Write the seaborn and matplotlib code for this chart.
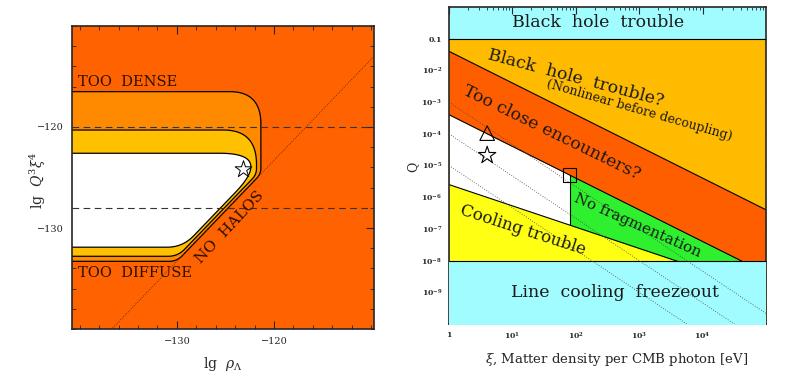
import numpy as np
import matplotlib.pyplot as plt
import seaborn as sns
from matplotlib.ticker import FixedLocator, MultipleLocator, LogLocator, NullFormatter

sns.set_style("ticks")
plt.rcParams['font.family'] = ['DejaVu Serif']
plt.rcParams['mathtext.fontset'] = 'dejavuserif'

# ---- left panel: lg rho_Lambda vs lg Q^3 xi^4 ----
rho_lim = [-140.8, -109.7]
q3xi4_lim = [-140, -110]
dashed_levels = [-120, -128]
halo_offset = -3.3                 # dotted: lg Q^3xi^4 = lg rho + offset
halo_rho = [-145, -105]

# region outlines: corners (lg rho, lg Q^3xi^4) and corner rounding
outer_x = [-145, -121.35, -121.35, -130.0, -145]
outer_y = [-116.5, -116.5, -124.65, -133.3, -133.3]
outer_r = [0, 3.2, 0.6, 0.8, 0]
middle_x = [-145, -121.8, -121.8, -129.9, -145]
middle_y = [-120.3, -120.3, -124.7, -132.8, -132.8]
middle_r = [0, 3.4, 0.6, 1.0, 0]
inner_x = [-145, -120.1, -129.4, -145]
inner_y = [-122.6, -122.6, -131.9, -131.9]
inner_r = [0, 5.5, 1.6, 0]
star_left = (-123.2, -124.2)

# ---- right panel: xi vs Q ----
xi_lim = [1, 1e5]
q_lim = [1e-10, 1]
q_bh = 0.1
q_freeze = 1e-8
xi_ends = [1, 1e5]
q_encounter_top = [4e-2, 4e-7]
q_encounter_bottom = [4e-4, 4e-9]
q_cooling = [2.5e-6, 1.1e-9]
xi_fragment = 80
q3xi4_levels = [1e-9, 1e-12, 1e-15]
xi_dotted = [1, 1e6]
marker_xi = [4, 4, 80]
marker_q = [1.05e-4, 2.1e-5, 5e-6]
marker_kind = ['^', '*', 's']


def rounded(xs, ys, rs, n=30):
    pts = np.column_stack([xs, ys]).astype(float)
    out = [pts[0]]
    for i in range(1, len(pts) - 1):
        v, r = pts[i], rs[i]
        if r == 0:
            out.append(v)
            continue
        d1 = v - pts[i - 1]
        d1 /= np.linalg.norm(d1)
        d2 = pts[i + 1] - v
        d2 /= np.linalg.norm(d2)
        p1, p2 = v - r * d1, v + r * d2
        t = np.linspace(0, 1, n)[:, None]
        out.extend((1 - t) ** 2 * p1 + 2 * t * (1 - t) * v + t ** 2 * p2)
    out.append(pts[-1])
    return np.array(out)


def loglog_at(x, xs, qs):
    return 10 ** np.interp(np.log10(x), np.log10(xs), np.log10(qs))


fig = plt.figure(figsize=(7.99, 3.78), dpi=100)
ax1 = fig.add_axes([72 / 799, 49 / 378, 302 / 799, 303 / 378])
ax2 = fig.add_axes([449 / 799, 54 / 378, 317 / 799, 317 / 378])

# ---------------- left ----------------
ax1.set_facecolor('#ff6200')
for xs, ys, rs, col in [(outer_x, outer_y, outer_r, '#ff8a00'),
                        (middle_x, middle_y, middle_r, '#ffc000'),
                        (inner_x, inner_y, inner_r, 'white')]:
    p = rounded(xs, ys, rs)
    ax1.fill(p[:, 0], p[:, 1], facecolor=col, edgecolor='black', lw=0.9, zorder=2)

for lev in dashed_levels:
    ax1.axhline(lev, color='#333333', lw=0.8, ls=(0, (6, 4)), zorder=3)
sns.lineplot(x=halo_rho, y=[r + halo_offset for r in halo_rho], ax=ax1,
             color='#552200', lw=0.6, ls=':', zorder=3)
sns.scatterplot(x=[star_left[0]], y=[star_left[1]], ax=ax1, marker='*', s=160,
                facecolor='white', edgecolor='black', linewidth=0.7, zorder=5)

ax1.set_xlim(rho_lim)
ax1.set_ylim(q3xi4_lim)
ax1.xaxis.set_major_locator(FixedLocator([-130, -120]))
ax1.yaxis.set_major_locator(FixedLocator([-120, -130]))
ax1.xaxis.set_minor_locator(MultipleLocator(2))
ax1.yaxis.set_minor_locator(MultipleLocator(2))
ax1.set_xticklabels(['\u2212130', '\u2212120'])
ax1.set_yticklabels(['\u2212120', '\u2212130'])
ax1.tick_params(which='both', direction='in', top=True, right=True, labelsize=7, pad=6)
ax1.tick_params(which='major', length=6, width=0.8)
ax1.tick_params(which='minor', length=3, width=0.6)
for s in ax1.spines.values():
    s.set_linewidth(1.2)
ax1.set_xlabel(r'lg  $\rho_\Lambda$', fontsize=10)
ax1.set_ylabel(r'lg  $Q^3\xi^4$', fontsize=10)
ax1.xaxis.set_label_coords(0.5, -0.085)
ax1.yaxis.set_label_coords(-0.08, 0.49)

tc = '#2a1000'
ax1.text(0.02, 0.815, 'TOO  DENSE', transform=ax1.transAxes, fontsize=10.5,
         color=tc, va='center', ha='left')
ax1.text(0.02, 0.185, 'TOO  DIFFUSE', transform=ax1.transAxes, fontsize=10.5,
         color=tc, va='center', ha='left')
ax1.text(0.523, 0.337, 'NO  HALOS', transform=ax1.transAxes, fontsize=11,
         color=tc, va='center', ha='center', rotation=47)

# ---------------- right ----------------
cyan = '#a0fcff'
ax2.set_xscale('log')
ax2.set_yscale('log')
ax2.set_facecolor(cyan)
ax2.fill_between(xi_ends, q_freeze, q_bh, color='#ffbb00', lw=0, zorder=1)
ax2.fill_between(xi_ends, 1e-11, q_encounter_top, color='#ff5e00', lw=0, zorder=1)
xg = [xi_fragment, xi_lim[1]]
ax2.fill_between(xg, 1e-11, loglog_at(xg, xi_ends, q_encounter_bottom),
                 color='#2ef02e', lw=0, zorder=1)
xw = [xi_lim[0], xi_fragment]
ax2.fill_between(xw, 1e-11, loglog_at(xw, xi_ends, q_encounter_bottom),
                 color='white', lw=0, zorder=1)
ax2.fill_between(xi_ends, 1e-11, q_cooling, color='#ffff14', lw=0, zorder=1)
for qs in [q_encounter_top, q_encounter_bottom, q_cooling]:
    ax2.plot(xi_ends, qs, color='black', lw=0.8, zorder=2)
ax2.plot([xi_fragment, xi_fragment],
         [loglog_at(xi_fragment, xi_ends, q_cooling),
          loglog_at(xi_fragment, xi_ends, q_encounter_bottom)],
         color='black', lw=0.8, zorder=2)
ax2.fill_between(xi_ends, 1e-11, q_freeze, color=cyan, lw=0, zorder=3)
ax2.axhline(q_bh, color='black', lw=0.8, zorder=4)
ax2.axhline(q_freeze, color='black', lw=0.8, zorder=4)

for c in q3xi4_levels:
    sns.lineplot(x=xi_dotted, y=[(c / x ** 4) ** (1 / 3) for x in xi_dotted], ax=ax2,
                 color='#444444', lw=0.6, ls=(0, (1, 2)), zorder=5)
for x, q, m in zip(marker_xi, marker_q, marker_kind):
    sns.scatterplot(x=[x], y=[q], ax=ax2, marker=m, s={'^': 110, '*': 170, 's': 95}[m],
                    facecolor='none', edgecolor='black', linewidth=0.8, zorder=6)

ax2.set_xlim(xi_lim)
ax2.set_ylim(q_lim)
ax2.yaxis.set_major_locator(FixedLocator([10.0 ** -k for k in range(1, 10)]))
ax2.set_yticklabels(['0.1'] + [r'$\mathbf{10^{-%d}}$' % k for k in range(2, 10)])
ax2.xaxis.set_major_locator(FixedLocator([10.0 ** k for k in range(0, 5)]))
ax2.set_xticklabels(['1'] + [r'$\mathbf{10^{%d}}$' % k for k in range(1, 5)])
ax2.xaxis.set_minor_locator(LogLocator(base=10, subs=np.arange(2, 10)))
ax2.yaxis.set_minor_locator(LogLocator(base=10, subs=np.arange(2, 10)))
ax2.xaxis.set_minor_formatter(NullFormatter())
ax2.yaxis.set_minor_formatter(NullFormatter())
ax2.tick_params(which='both', direction='in', top=True, right=True, labelsize=5.5, pad=5)
ax2.tick_params(which='major', length=5, width=0.8)
ax2.tick_params(which='minor', length=2.5, width=0.6)
for lab in ax2.get_xticklabels() + ax2.get_yticklabels():
    lab.set_fontweight('bold')
for s in ax2.spines.values():
    s.set_linewidth(1.2)
ax2.set_xlabel(r'$\xi$, Matter density per CMB photon [eV]', fontsize=9.5)
ax2.set_ylabel('Q', fontsize=9)
ax2.xaxis.set_label_coords(0.53, -0.085)
ax2.yaxis.set_label_coords(-0.095, 0.495)

tk = dict(transform=ax2.transAxes, ha='center', va='center', color='#1a1a1a', zorder=7)
ax2.text(0.47, 0.95, 'Black  hole  trouble', fontsize=12.5, **tk)
ax2.text(0.524, 0.098, 'Line  cooling  freezeout', fontsize=12.5, **tk)
ax2.text(0.40, 0.775, 'Black  hole  trouble?', fontsize=12.5, rotation=-15, **tk)
ax2.text(0.60, 0.675, '(Nonlinear before decoupling)', fontsize=9, rotation=-16, **tk)
ax2.text(0.325, 0.603, 'Too close encounters?', fontsize=12.5, rotation=-26, **tk)
ax2.text(0.596, 0.312, 'No fragmentation', fontsize=11, rotation=-24, **tk)
ax2.text(0.234, 0.297, 'Cooling trouble', fontsize=12, rotation=-18, **tk)

fig.savefig('out.png', dpi=100)
